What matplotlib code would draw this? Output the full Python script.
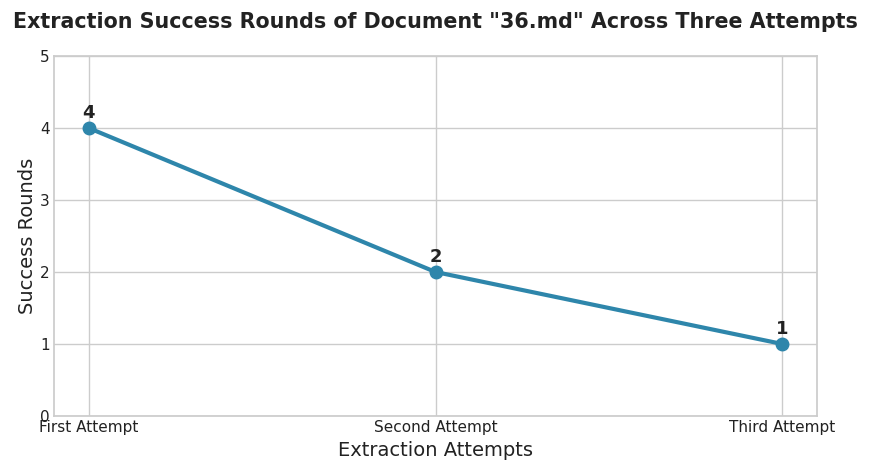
import matplotlib
matplotlib.use("Agg")
import matplotlib.pyplot as plt
import seaborn as sns

attempts = ["First Attempt", "Second Attempt", "Third Attempt"]
success_rounds = [4, 2, 1]

sns.set_theme(style="whitegrid")
plt.rcParams['font.family'] = ['DejaVu Sans']

fig = plt.figure(figsize=(8.71, 4.66), dpi=100)
ax = fig.add_axes([54/871, 1-416/466, (817-54)/871, (416-56)/466])
x = list(range(len(attempts)))
ax.plot(x, success_rounds, color="#2E86AB", linewidth=3, marker="o", markersize=9)
for xi, v in zip(x, success_rounds):
    ax.annotate(str(v), (xi, v), textcoords="offset points", xytext=(0, 7),
                ha="center", fontsize=13, fontweight="bold", color="#222222")
ax.set_xticks(x)
ax.set_xticklabels(attempts, fontsize=11)
ax.set_xlim(-0.1, 2.1)
ax.set_ylim(0, 5)
ax.tick_params(axis="both", labelsize=11, pad=3, length=0)
for lbl in ax.get_xticklabels() + ax.get_yticklabels():
    lbl.set_color("#222222")
ax.set_xlabel("Extraction Attempts", fontsize=14, color="#222222", labelpad=4)
ax.set_ylabel("Success Rounds", fontsize=14, color="#222222", labelpad=2)
fig.suptitle('Extraction Success Rounds of Document "36.md" Across Three Attempts',
             fontsize=14.9, fontweight="bold", color="#222222", x=0.5, y=0.975)
for s in ax.spines.values():
    s.set_color("#cccccc")
fig.savefig("out.png", dpi=100)
